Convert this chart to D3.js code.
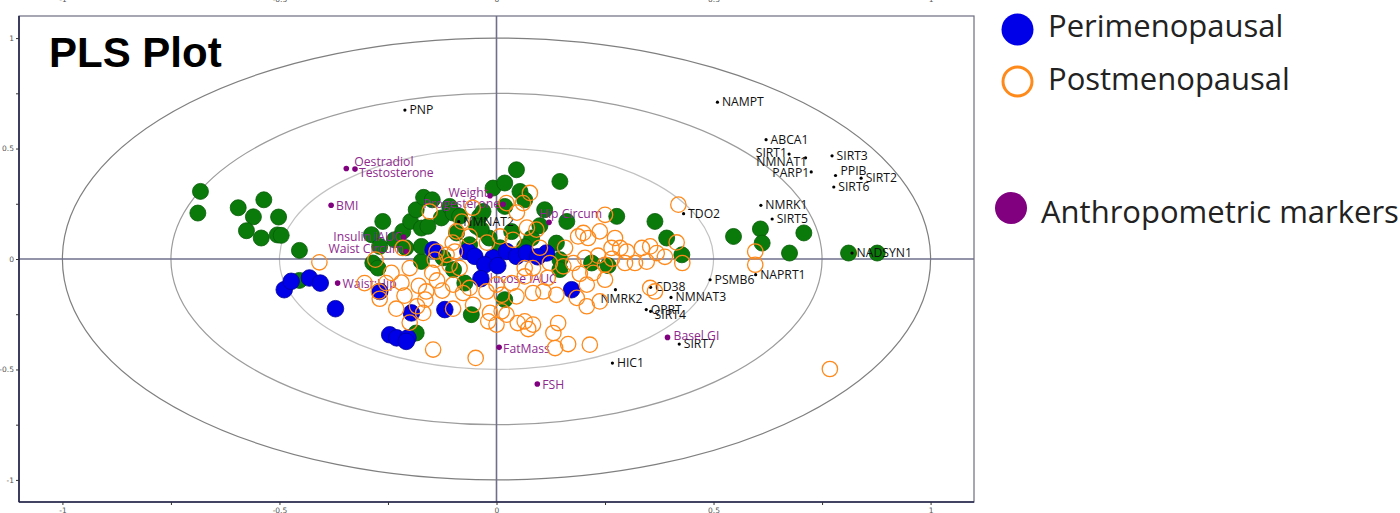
<!DOCTYPE html>
<html>
<head>
<meta charset="utf-8">
<script src="https://cdn.jsdelivr.net/npm/d3@7"></script>
<style>
  html, body { margin: 0; padding: 0; background: #fff; }
  svg { display: block; }
</style>
</head>
<body>
<svg id="chart" width="1400" height="513"></svg>
<script>
// ---- Sample scores on the first two PLS components [t1, t2] ----
const greenScores = [
  [-0.682,0.306],[-0.688,0.208],[-0.595,0.232],[-0.536,0.268],[-0.560,0.191],[-0.502,0.190],
  [-0.576,0.128],[-0.542,0.095],[-0.505,0.109],[-0.496,0.107],[-0.454,0.039],[-0.454,-0.097],
  [-0.288,0.110],[-0.269,0.057],[-0.262,0.170],[-0.216,0.125],[-0.198,0.170],[-0.185,0.223],
  [-0.168,0.279],[-0.148,0.268],[-0.173,0.140],[-0.158,0.148],[-0.127,0.186],[-0.108,0.238],
  [-0.100,0.208],[-0.085,0.193],[-0.039,0.193],[-0.031,0.215],[-0.046,0.148],[-0.092,0.118],
  [-0.017,0.095],[-0.008,0.321],[0.019,0.344],[0.046,0.404],[0.054,0.306],[0.065,0.268],
  [0.019,0.238],[0.081,0.095],[0.111,0.223],[0.146,0.351],[0.162,0.170],[0.277,0.193],
  [0.365,0.170],[0.392,0.095],[0.138,0.072],[0.546,0.102],[0.608,0.136],[0.612,0.072],
  [0.708,0.118],[0.675,0.027],[0.811,0.027],[0.877,0.027],[0.427,0.019],[-0.285,-0.018],
  [-0.273,-0.041],[-0.173,-0.011],[-0.073,-0.109],[-0.058,-0.252],[0.019,-0.184],[-0.185,-0.335],
  [-0.123,0.005],[0.146,-0.003],[0.146,-0.048],[0.219,-0.018],[-0.062,0.065],[0.008,0.051],
  [0.035,0.124],[0.100,0.151],[-0.235,0.087],[-0.209,0.051],[0.257,-0.030],[-0.099,-0.048],
  [0.065,0.056],[-0.035,0.133],[-0.173,0.057]
];

const periScores = [
  [-0.489,-0.139],[-0.473,-0.101],[-0.431,-0.086],[-0.406,-0.109],[-0.371,-0.225],[-0.269,-0.147],
  [-0.196,-0.244],[-0.119,-0.229],[-0.246,-0.343],[-0.230,-0.357],[-0.204,-0.357],[-0.208,-0.373],
  [0.173,-0.139],[-0.146,0.042],[-0.066,0.034],[-0.050,0.012],[-0.008,0.005],[0.023,0.034],
  [0.046,0.012],[0.069,0.027],[0.115,0.027],[-0.027,-0.026],[0.095,0.010],[0.003,-0.030],
  [-0.036,-0.089]
];

const postScores = [
  [-0.408,-0.015],[-0.279,-0.003],[-0.216,0.050],[-0.200,-0.041],[-0.304,-0.109],[-0.254,-0.109],
  [-0.271,-0.147],[-0.269,-0.180],[-0.231,-0.225],[-0.200,-0.288],[-0.183,-0.214],[-0.169,-0.244],
  [-0.146,-0.410],[-0.179,-0.121],[-0.164,-0.184],[-0.162,-0.147],[-0.148,-0.063],[-0.137,-0.097],
  [-0.125,-0.143],[-0.100,-0.225],[-0.077,-0.154],[-0.054,-0.207],[-0.048,-0.448],[-0.142,-0.003],
  [-0.138,0.034],[-0.115,0.019],[-0.096,0.034],[-0.108,-0.026],[-0.085,-0.041],[-0.100,-0.116],
  [-0.062,-0.131],[-0.154,0.215],[-0.092,0.125],[-0.062,0.102],[-0.023,-0.147],[-0.019,-0.282],
  [-0.015,-0.244],[0.000,-0.116],[0.012,-0.237],[0.000,-0.297],[0.023,-0.252],[0.012,-0.162],
  [0.035,-0.109],[0.046,-0.169],[0.049,-0.290],[0.065,-0.041],[0.065,-0.282],[0.073,-0.317],
  [0.065,-0.079],[0.008,0.102],[0.038,0.087],[0.023,0.253],[0.061,0.253],[0.077,0.299],
  [0.084,-0.154],[0.108,-0.147],[0.084,-0.041],[0.123,-0.018],[0.131,-0.335],[0.135,-0.403],
  [0.138,-0.162],[0.142,-0.290],[0.154,-0.033],[0.165,-0.385],[0.177,-0.018],[0.185,-0.176],
  [0.192,-0.067],[0.208,-0.214],[0.215,-0.388],[0.223,-0.063],[0.208,-0.116],[0.204,0.005],
  [0.092,0.133],[0.188,0.102],[0.211,0.095],[0.084,-0.297],[0.238,-0.192],[0.250,-0.094],
  [0.250,-0.026],[0.296,-0.018],[0.300,0.034],[0.285,0.050],[0.319,-0.018],[0.346,-0.012],
  [0.354,-0.131],[0.365,-0.147],[0.428,-0.018],[0.596,-0.026],[0.596,0.034],[0.768,-0.498],
  [0.419,0.246],[0.415,0.075],[0.354,0.057],[0.335,0.050],[0.369,0.027],[0.250,0.200],
  [0.238,0.125],[0.273,0.095],[0.234,0.015],[0.266,0.001],[0.388,0.010],[0.100,0.051],
  [0.158,0.051],[0.118,-0.085],[0.070,0.142],[-0.101,0.074],[-0.022,0.074],[-0.080,0.169],
  [-0.055,0.232],[0.047,0.210],[0.200,0.118],[0.265,0.050],[-0.242,-0.063],[-0.219,-0.107],
  [-0.212,-0.166]
];

// ---- Variable loadings ----
const geneNames = ["NAMPT","ABCA1","SIRT1","NMNAT1","PARP1","SIRT3","PPIB","SIRT2","SIRT6",
  "NMRK1","SIRT5","TDO2","NADSYN1","NAPRT1","PSMB6","CD38","NMNAT3","QPRT","SIRT4","SIRT7",
  "HIC1","NMRK2","NMNAT2","PNP"];
const geneLoadings = [
  [0.509,0.710],[0.621,0.540],[0.674,0.475],[0.712,0.458],[0.725,0.394],[0.773,0.467],
  [0.781,0.378],[0.840,0.366],[0.777,0.326],[0.609,0.243],[0.635,0.181],[0.431,0.205],
  [0.819,0.027],[0.597,-0.071],[0.492,-0.094],[0.355,-0.128],[0.402,-0.174],[0.345,-0.229],
  [0.355,-0.237],[0.421,-0.385],[0.267,-0.471],[0.274,-0.139],[-0.087,0.169],[-0.211,0.674]
];

const markerNames = ["Oestradiol","Testosterone","BMI","Weight","Progesterone","Hip Circum",
  "Insulin iAUC","Waist Circum","Waist:Hip","Glucose iAUC","FatMass","FSH","Basel GI"];
const markerLoadings = [
  [-0.346,0.410],[-0.326,0.407],[-0.381,0.243],[-0.015,0.286],[0.015,0.248],[0.121,0.166],
  [-0.214,0.099],[-0.208,0.034],[-0.366,-0.109],[-0.045,-0.086],[0.006,-0.400],[0.094,-0.566],
  [0.394,-0.355]
];

const axisTicks = [-1, -0.75, -0.5, -0.25, 0, 0.25, 0.5, 0.75, 1];
const axisTickLabels = ["-1", "", "-0.5", "", "0", "", "0.5", "", "1"];
const circleRadii = [1, 0.75, 0.5];
const legendLabels = ["Perimenopausal", "Postmenopausal", "Anthropometric markers"];

// ---- Label placement around each loading dot: [anchor, dx, dy] ----
const labelDefault = ["start", 4.5, 4];
const labelPlacement = {
  "SIRT1": ["end", -2, 3],
  "NMNAT1": ["end", 1.5, 8],
  "PARP1": ["end", -2, 5],
  "PPIB": ["start", 5, 0],
  "SIRT4": ["start", 4, 8],
  "NMRK2": ["middle", 6, 13],
  "Oestradiol": ["start", 8, -2],
  "Testosterone": ["start", 4, 8],
  "Weight": ["end", -2, 1],
  "Progesterone": ["end", -3, 4],
  "Hip Circum": ["start", -10, -4.5],
  "Insulin iAUC": ["end", -2, 4],
  "Waist Circum": ["end", -3, 2],
  "Waist:Hip": ["start", 5, 5],
  "Glucose iAUC": ["start", 4, 5],
  "FatMass": ["start", 4, 5.5],
  "FSH": ["start", 5, 5],
  "BMI": ["start", 5, 5],
  "Basel GI": ["start", 6, 3]
};

// ---- Colours ----
const cGreen = "#0a7a0a", cGreenEdge = "#075c07";
const cBlue = "#0000e8", cBlueEdge = "#00009c";
const cOrange = "#ff8a1c";
const cPurple = "#800080", cPurpleText = "#8e2a8e";

const svg = d3.select("#chart");

const plot = { left: 19, top: 16, right: 974, bottom: 502 };
const x = d3.scaleLinear().domain([-1.1, 1.1]).range([plot.left, plot.right]);
const y = d3.scaleLinear().domain([-1.1, 1.1]).range([plot.bottom, plot.top]);

const tickFmt = d => axisTickLabels[axisTicks.indexOf(d)] ?? "";

// clip for plot contents
svg.append("clipPath").attr("id", "plotClip")
  .append("rect")
  .attr("x", plot.left).attr("y", plot.top)
  .attr("width", plot.right - plot.left).attr("height", plot.bottom - plot.top);

const inner = svg.append("g").attr("clip-path", "url(#plotClip)");

// correlation circles (drawn as ellipses in screen space)
const circleColors = ["#7f7f7f", "#9c9c9c", "#c2c2c2"];
inner.selectAll("ellipse.ring").data(circleRadii).join("ellipse")
  .attr("class", "ring")
  .attr("cx", x(0)).attr("cy", y(0))
  .attr("rx", r => x(r) - x(0))
  .attr("ry", r => y(0) - y(r))
  .attr("fill", "none")
  .attr("stroke", (r, i) => circleColors[i])
  .attr("stroke-width", 1.2);

// zero lines
inner.append("line")
  .attr("x1", plot.left).attr("x2", plot.right)
  .attr("y1", y(0)).attr("y2", y(0))
  .attr("stroke", "#6f6f8c").attr("stroke-width", 1.6);
inner.append("line")
  .attr("x1", x(0)).attr("x2", x(0))
  .attr("y1", plot.top).attr("y2", plot.bottom)
  .attr("stroke", "#6f6f8c").attr("stroke-width", 1.6);

// title
svg.append("text")
  .attr("x", 49).attr("y", 67)
  .attr("font-family", "'Liberation Sans', Arial, sans-serif")
  .attr("font-weight", "bold")
  .attr("font-size", 42)
  .attr("fill", "#000")
  .text("PLS Plot");

const ptR = 8;

// green sample group
inner.append("g").selectAll("circle").data(greenScores).join("circle")
  .attr("cx", d => x(d[0])).attr("cy", d => y(d[1]))
  .attr("r", ptR)
  .attr("fill", cGreen).attr("stroke", cGreenEdge).attr("stroke-width", 0.8);

// loadings: genes (black) and anthropometric markers (purple)
const labelFont = "'Open Sans', 'Noto Sans', sans-serif";

function drawLoadings(names, values, dotR, dotColor, textColor) {
  const g = inner.append("g");
  names.forEach((name, i) => {
    const [vx, vy] = values[i];
    const px = x(vx), py = y(vy);
    g.append("circle").attr("cx", px).attr("cy", py).attr("r", dotR).attr("fill", dotColor);
    const [anchor, dx, dy] = labelPlacement[name] || labelDefault;
    g.append("text")
      .attr("x", px + dx).attr("y", py + dy)
      .attr("text-anchor", anchor)
      .attr("font-family", labelFont)
      .attr("font-size", 12.2)
      .attr("fill", textColor)
      .text(name);
  });
}
drawLoadings(geneNames, geneLoadings, 1.6, "#000", "#111");
drawLoadings(markerNames, markerLoadings, 2.8, cPurple, cPurpleText);

// perimenopausal samples
inner.append("g").selectAll("circle").data(periScores).join("circle")
  .attr("cx", d => x(d[0])).attr("cy", d => y(d[1]))
  .attr("r", ptR + 0.3)
  .attr("fill", cBlue).attr("stroke", cBlueEdge).attr("stroke-width", 0.8);

// postmenopausal samples
inner.append("g").selectAll("circle").data(postScores).join("circle")
  .attr("cx", d => x(d[0])).attr("cy", d => y(d[1]))
  .attr("r", ptR - 0.3)
  .attr("fill", "none").attr("stroke", cOrange).attr("stroke-width", 1.3);

// frame
svg.append("rect")
  .attr("x", plot.left).attr("y", plot.top)
  .attr("width", plot.right - plot.left).attr("height", plot.bottom - plot.top)
  .attr("fill", "none").attr("stroke", "#6d6d80").attr("stroke-width", 1.2);
svg.append("line")
  .attr("x1", plot.left).attr("x2", plot.left).attr("y1", plot.top).attr("y2", plot.bottom)
  .attr("stroke", "#22224a").attr("stroke-width", 1.6);
svg.append("line")
  .attr("x1", plot.left).attr("x2", plot.right).attr("y1", plot.bottom).attr("y2", plot.bottom)
  .attr("stroke", "#22224a").attr("stroke-width", 1.6);

// axes
function styleAxis(g) {
  g.select(".domain").remove();
  g.selectAll(".tick line").attr("stroke", "#333");
  g.selectAll(".tick text")
    .attr("fill", "#555")
    .attr("font-family", "'DejaVu Sans', sans-serif")
    .attr("font-size", 7.5);
}

svg.append("g")
  .attr("transform", `translate(${plot.left},0)`)
  .call(d3.axisLeft(y).tickValues(axisTicks).tickFormat(tickFmt).tickSize(3).tickPadding(2))
  .call(styleAxis);

svg.append("g")
  .attr("transform", `translate(0,${plot.bottom})`)
  .call(d3.axisBottom(x).tickValues(axisTicks).tickFormat(tickFmt).tickSize(3).tickPadding(3))
  .call(styleAxis);

// top axis labels (only their lower edge falls inside the page)
svg.append("g")
  .attr("transform", `translate(0,${plot.top})`)
  .call(d3.axisTop(x).tickValues(axisTicks).tickFormat(tickFmt).tickSize(0).tickPadding(14.5))
  .call(styleAxis);

// legend
const legendFont = "'Open Sans', 'Noto Sans', sans-serif";
const legend = svg.append("g");
legend.append("circle").attr("cx", 1017.5).attr("cy", 29.5).attr("r", 16).attr("fill", cBlue);
legend.append("circle").attr("cx", 1017.5).attr("cy", 81.5).attr("r", 14.5)
  .attr("fill", "none").attr("stroke", cOrange).attr("stroke-width", 3);
legend.append("circle").attr("cx", 1011).attr("cy", 208).attr("r", 16).attr("fill", cPurple);
const legendPos = [[1048, 37], [1048, 90], [1041, 222.5]];
legend.selectAll("text").data(legendLabels).join("text")
  .attr("x", (d, i) => legendPos[i][0])
  .attr("y", (d, i) => legendPos[i][1])
  .attr("font-family", legendFont)
  .attr("font-size", 31)
  .attr("fill", "#222")
  .text(d => d);
</script>
</body>
</html>
